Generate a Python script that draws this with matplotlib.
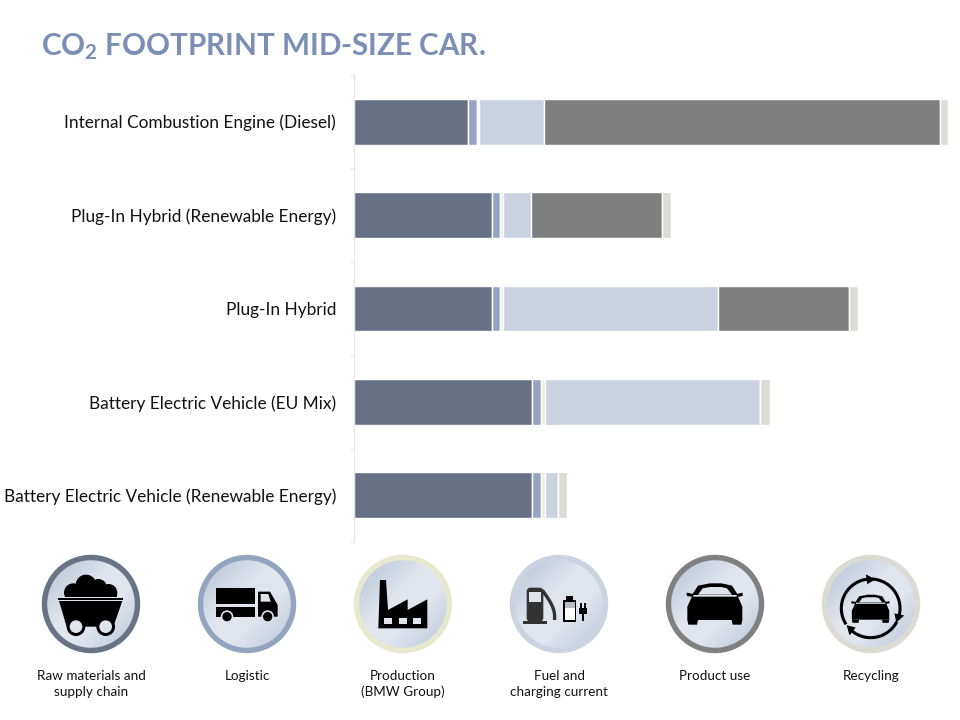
import numpy as np
import matplotlib
matplotlib.use('Agg')
import matplotlib.pyplot as plt
from matplotlib.patches import Circle, Polygon, FancyBboxPatch
from matplotlib.colors import LinearSegmentedColormap

plt.rcParams['font.family'] = ['Lato', 'DejaVu Sans']
plt.rcParams['mathtext.fontset'] = 'custom'
plt.rcParams['mathtext.rm'] = 'Lato:bold'
plt.rcParams['mathtext.default'] = 'rm'

# Data (bar length in relative units)
cars = ['Internal Combustion Engine (Diesel)', 'Plug-In Hybrid (Renewable Energy)', 'Plug-In Hybrid',
        'Battery Electric Vehicle (EU Mix)', 'Battery Electric Vehicle (Renewable Energy)']
raw = [114.5, 138.5, 138.5, 178.5, 178.5]
logistic = [8.5, 8, 8, 8.5, 8.5]
production = [2.5, 3, 3, 4, 4]
fuel = [65, 28, 215, 215, 13]
use = [396, 130.5, 131, 0, 0]
recycling = [8, 9, 9, 10, 9.5]

series = [raw, logistic, production, fuel, use, recycling]
colors = ['#667185', '#95a5c1', '#eeeed5', '#cad2e0', '#7f7f7f', '#dddcd4']
icon_labels = ['Raw materials and\nsupply chain', 'Logistic', 'Production\n(BMW Group)',
               'Fuel and\ncharging current', 'Product use', 'Recycling']
ring_colors = ['#687385', '#93a4c0', '#e8e8cf', '#cbd3e0', '#808080', '#dcdbd3']

fig = plt.figure(figsize=(9.6, 7.2), dpi=100)

# bars
ax = fig.add_axes([353.5/960, 1-542/720, 606/960, 467/720])
ypos = np.arange(len(cars))
left = np.zeros(len(cars))
for vals, col in zip(series, colors):
    vals = np.array(vals)
    ax.barh(ypos, vals, left=left, height=0.49, color=col, edgecolor='white', linewidth=1.0)
    left = left + vals
ax.set_xlim(0, 606)
ax.set_ylim(4.5, -0.5)
ax.set_yticks(ypos)
ax.set_yticklabels(cars, fontsize=12.4, color='#111111')
ax.set_yticks(np.arange(-0.5, 5), minor=True)
ax.tick_params(axis='y', which='major', length=0, pad=12.5)
ax.tick_params(axis='y', which='minor', length=3, color='#e3e3e3')
ax.set_xticks([])
for s in ['top', 'right', 'bottom']:
    ax.spines[s].set_visible(False)
ax.spines['left'].set_color('#e3e3e3')

# overlay in pixels for title and icons
ov = fig.add_axes([0, 0, 1, 1], zorder=5)
ov.axis('off')
ov.patch.set_alpha(0)

ov.text(41, 55, 'CO$_2$ FOOTPRINT MID-SIZE CAR.', fontsize=21.3, fontweight='bold', color='#7b8fb5', va='baseline')

cmap = LinearSegmentedColormap.from_list('disc', [(0, '#bcc8da'), (0.2, '#c6d0df'), (0.42, '#e0e5ee'),
                                                  (0.62, '#e0e5ee'), (0.84, '#c6d0df'), (1, '#bcc8da')])
grad = np.add.outer(np.linspace(0, 1, 100), np.linspace(0, 1, 100)) / 2
centers = [91, 247, 403, 559, 715, 871]
cy = 604

for cx, ring, label in zip(centers, ring_colors, icon_labels):
    im = ov.imshow(grad, cmap=cmap, extent=[cx-49, cx+49, cy+49, cy-49], zorder=2, aspect='auto')
    im.set_clip_path(Circle((cx, cy), 46, transform=ov.transData))
    ov.add_patch(Circle((cx, cy), 46.5, fill=False, edgecolor=ring, linewidth=3.9, zorder=3))
    ov.text(cx, 669.5, label, ha='center', va='top', fontsize=9.7, color='#111111', linespacing=1.42)
ov.set_xlim(0, 960)
ov.set_ylim(720, 0)


def poly(pts, ox, oy, color='black', z=4, scale=1.0, pivot=None):
    pts = np.array(pts, dtype=float)
    if pivot is not None:
        pts = np.array(pivot) + (pts - np.array(pivot)) * scale
    ov.add_patch(Polygon(np.c_[ox + pts[:, 0]/3, oy + pts[:, 1]/3], closed=True, facecolor=color, edgecolor='none', zorder=z))


def disc(x, y, r, ox, oy, color='black', z=4):
    ov.add_patch(Circle((ox + x/3, oy + y/3), r/3, facecolor=color, edgecolor='none', zorder=z))


def box(x0, y0, x1, y1, ox, oy, color='black', z=4):
    poly([(x0, y0), (x1, y0), (x1, y1), (x0, y1)], ox, oy, color, z)


light = '#dfe4ed'
# coal cart
ox, oy = 20, 545
disc(198, 120, 31, ox, oy)
disc(160, 143, 28, ox, oy)
disc(235, 128, 26, ox, oy)
disc(266, 143, 26, ox, oy)
box(135, 145, 290, 156, ox, oy)
box(120, 156, 305, 168, ox, oy, light, 4.5)
box(115, 160, 308, 165, ox, oy, 'black', 5)
poly([(117, 168), (307, 168), (280, 245), (140, 245)], ox, oy, 'black', 5)
for wx in [168, 257]:
    disc(wx, 245, 28, ox, oy, 'black', 5)
    disc(wx, 245, 19, ox, oy, light, 6)

# truck
box(588, 128, 706, 178, ox, oy)
box(588, 186, 706, 215, ox, oy)
poly([(714, 140), (750, 140), (773, 180), (773, 215), (714, 215)], ox, oy)
poly([(722, 147), (745, 147), (752, 170), (722, 170)], ox, oy, light, 5)
for wx in [621, 743]:
    disc(wx, 215, 19, ox, oy, light, 5)
    disc(wx, 215, 14, ox, oy, 'black', 6)

# factory
poly([(1075, 250), (1080, 105), (1098, 105), (1104, 195), (1163, 163), (1163, 195), (1222, 163), (1222, 250)], ox, oy)
for wx in [1092, 1136, 1179]:
    box(wx, 218, wx+25, 238, ox, oy, light, 5)

# pump and battery
ox, oy = 490, 545
ov.add_patch(FancyBboxPatch((ox+110/3, oy+128/3), 50/3, 102/3, boxstyle='round,pad=0,rounding_size=4',
                            facecolor='#333333', edgecolor='none', zorder=4))
box(118, 140, 152, 172, ox, oy, light, 5)
box(100, 229, 170, 236, ox, oy, '#333333')
t = np.linspace(0, 1, 30)
ov.plot(ox + (160 + 25*np.sin(t*np.pi*0.6) + 10*t)/3, oy + (140 + 80*t)/3, color='#333333', lw=2.4, zorder=4)
box(228, 154, 250, 166, ox, oy)
box(219, 164, 259, 230, ox, oy)
box(224, 171, 254, 189, ox, oy, '#b8bcc4', 5)
box(224, 189, 254, 224, ox, oy, 'white', 5)
box(266, 190, 291, 206, ox, oy)
box(270, 174, 275, 192, ox, oy)
box(282, 174, 287, 192, ox, oy)
box(275, 205, 282, 228, ox, oy)


def car(ox, oy, scale, pivot):
    cabin = [(606, 150), (624, 122), (660, 115), (694, 115), (726, 122), (744, 150)]
    window = [(624, 149), (638, 130), (660, 126), (694, 126), (711, 130), (726, 149)]
    body = [(592, 185), (606, 155), (744, 155), (757, 185), (757, 225), (592, 225)]
    poly(cabin, ox, oy, 'black', 4, scale, pivot)
    poly(window, ox, oy, light, 5, scale, pivot)
    poly(body, ox, oy, 'black', 4, scale, pivot)
    poly([(590, 143), (610, 147), (610, 156), (590, 153)], ox, oy, 'black', 4, scale, pivot)
    poly([(740, 147), (758, 143), (758, 153), (740, 156)], ox, oy, 'black', 4, scale, pivot)
    poly([(592, 225), (624, 225), (621, 239), (595, 239)], ox, oy, 'black', 4, scale, pivot)
    poly([(725, 225), (757, 225), (754, 239), (728, 239)], ox, oy, 'black', 4, scale, pivot)


car(ox, oy, 1.0, (675, 175))

# recycling icon: small car plus three arrows
rx, ry, rr = 1142, 190, 88
car(ox + (1142-675)/3, oy + 15/3, 0.68, (675, 175))
for a0, a1 in [(-85, 12), (30, 128), (150, 262)]:
    ang = np.radians(np.linspace(a0, a1, 50))
    ov.plot(ox + (rx + rr*np.cos(ang))/3, oy + (ry + rr*np.sin(ang))/3, color='black', lw=2.2, zorder=4)
for a1 in [12, 128, 262]:
    tip = np.radians(a1 + 17)
    base = np.radians(a1)
    tx, ty = rx + rr*np.cos(tip), ry + rr*np.sin(tip)
    bx, by = rx + rr*np.cos(base), ry + rr*np.sin(base)
    nx, ny = np.cos(base), np.sin(base)
    poly([(tx, ty), (bx + 15*nx, by + 15*ny), (bx - 15*nx, by - 15*ny)], ox, oy)

fig.savefig('out.png', dpi=100)
